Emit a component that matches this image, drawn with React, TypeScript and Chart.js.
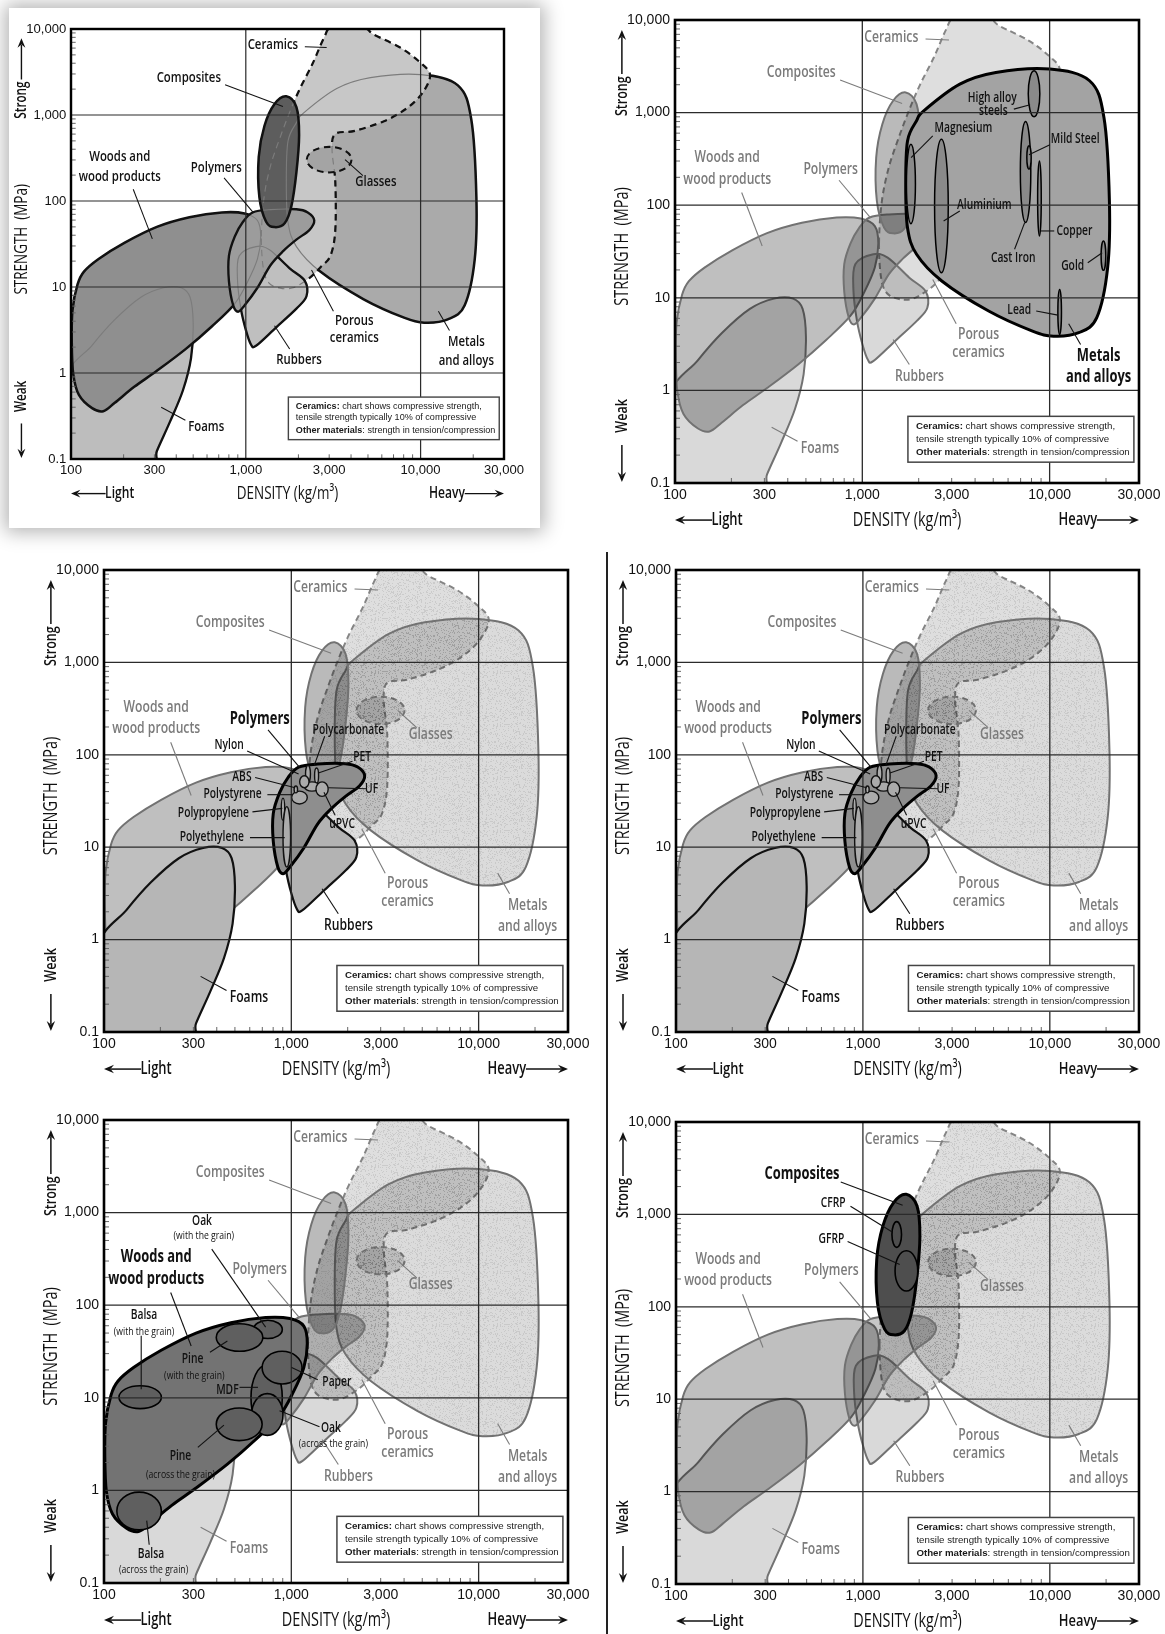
import React, { useEffect, useRef } from 'react';
import { Chart, registerables } from 'chart.js';

Chart.register(...registerables);

// ---------------- data ----------------
const densityTicks = [100, 300, 1000, 3000, 10000, 30000];
const strengthTicks = [0.1, 1, 10, 100, 1000, 10000];
const densityGridLines = [1000, 10000];
const strengthGridLines = [1, 10, 100, 1000];

// family outlines: [density kg/m3, strength MPa]
const ceramicsOutline = [
  [1228, 38.7], [1270, 108], [1384, 255], [1573, 552], [1788, 1095], [2032, 1995],
  [2412, 3963], [2800, 7870], [3115, 10400], [4676, 10400], [5428, 8570], [7640, 6085],
  [9872, 4135], [11320, 2936], [10300, 1832], [8322, 1193], [6170, 847], [4202, 655],
  [3251, 601], [3115, 392], [3251, 166], [3251, 45.9], [3050, 23.1], [2683, 17.1],
  [2310, 12.7], [1866, 9.8], [1573, 9.7], [1354, 11.2], [1260, 16.4],
];
const glassesBox = [2233, 4025, 215, 426];
const metalsOutline = [
  [2128, 1046], [3314, 2032], [5163, 2717], [10035, 2951], [16340, 2208], [19500, 886],
  [20850, 111], [20400, 21], [17850, 6.1], [14300, 4.2], [10490, 3.85], [8040, 4.4],
  [4725, 7.2], [2656, 15.2], [1948, 29.5], [1743, 57], [1705, 168], [1743, 495], [1948, 815],
];
const compositesOutline = [
  [1705, 1651], [1948, 1235], [2018, 585], [1948, 216], [1822, 86.7], [1668, 55],
  [1460, 49.7], [1307, 57.3], [1196, 111], [1186, 327], [1279, 750], [1460, 1342],
];
const woodsOutline = [
  [118.6, 15.1], [143.8, 21.2], [202, 32.6], [310, 50], [476, 64.7], [729, 73.6],
  [983, 71.7], [1166, 59.4], [1217, 38.7], [1166, 21.2], [1026, 11.6], [865, 6.4],
  [641, 3.5], [456, 1.92], [310, 1.06], [230, 0.69], [178, 0.45], [153, 0.36],
  [132, 0.39], [111, 0.556], [103, 0.97], [101, 2.29], [102, 5.4], [109, 10.7],
];
const polymersOutline = [
  [1094, 73.6], [1384, 79.5], [1947, 80.1], [2262, 73.6], [2464, 59.4], [2310, 45.9],
  [1947, 35.5], [1641, 26.3], [1384, 17.9], [1166, 9.8], [983, 6.1], [903, 5.16],
  [847, 6.1], [801, 11.6], [801, 23.1], [865, 38.7], [962, 56.9],
];
const rubbersOutline = [
  [917, 23], [1144, 29.5], [1366, 27.1], [1782, 16.5], [2176, 11.8], [2224, 7.8],
  [1948, 5.6], [1493, 3.4], [1144, 2.07], [1071, 2.14], [1002, 3.13], [937, 5.6], [897, 11.8],
];
const foamsOutline = [
  [92, 0.8], [132, 2.1], [178, 4.17], [251, 7.6], [338, 9.8], [427, 9.8], [480, 7.6],
  [500, 3.8], [486, 1.49], [437, 0.63], [368, 0.27], [310, 0.124], [279, 0.07], [85, 0.07],
];

// sub-class ellipses: [densityMin, densityMax, strengthMin, strengthMax]
const metalEllipses = [
  [7690, 8866, 901, 2831], [1720, 1921, 63.2, 456], [2431, 2876, 18.7, 516],
  [6977, 7934, 64.9, 802], [7556, 7970, 245, 438], [8630, 9022, 46.6, 301],
  [18830, 19940, 19.8, 41.1], [11066, 11565, 4.02, 12.3],
];
const polymerEllipses = [
  [1191, 1265, 50, 76.8], [1331, 1398, 49, 72], [1176, 1414, 40.4, 50.9],
  [1108, 1243, 44, 59.4], [1354, 1573, 35.5, 50.9], [1004, 1217, 29.4, 40.4],
  [1035, 1080, 38.7, 45.9], [884, 922, 19.5, 34], [903, 991, 6.1, 27.5],
];
const woodEllipses = [
  [120.2, 202.4, 7.64, 13.5], [117.1, 202.4, 0.3745, 0.958], [628, 895, 43.7, 68.7],
  [397.5, 704.5, 31.8, 63], [609, 895, 4.46, 22.6], [698.6, 1141, 14.1, 31.8],
  [614, 903, 3.93, 11.1], [397.5, 698.6, 3.45, 7.77],
];
const compositeEllipses = [
  [1430, 1609, 440, 835], [1486, 1965, 148.3, 403.6],
];

const outlines = {
  ceramics: ceramicsOutline, metals: metalsOutline, composites: compositesOutline,
  woods: woodsOutline, polymers: polymersOutline, rubbers: rubbersOutline, foams: foamsOutline,
};

// labels: lines [text, density, strength], leader [d1, s1, d2, s2]
const familyLabels = [
  { fam: 'ceramics', lines: [['Ceramics', 1428, 6494]], leader: [2176, 6231, 2902, 6077] },
  { fam: 'composites', lines: [['Composites', 472, 2717]], leader: [761, 2244, 1631, 1255] },
  { fam: 'woods', lines: [['Woods and', 190, 327], ['wood products', 190, 190.8]], leader: [227, 136.9, 292, 36.3] },
  { fam: 'polymers', lines: [['Polymers', 678, 244.7]], leader: [751, 186, 1104, 73.4] },
  { fam: 'glasses', lines: [['Glasses', 5546, 166]], leader: [4676, 197, 3696, 303] },
  { fam: 'ceramics', lines: [['Porous', 4173, 4.02], ['ceramics', 4173, 2.59]], leader: [3171, 5.24, 2377, 15.8] },
  { fam: 'rubbers', lines: [['Rubbers', 2018, 1.42]], leader: [1782, 1.905, 1460, 3.55] },
  { fam: 'metals', lines: [['Metals', 18260, 2.34], ['and alloys', 18260, 1.39]], leader: [14630, 3.13, 12640, 5.24] },
  { fam: 'foams', lines: [['Foams', 594, 0.239]], leader: [451, 0.282, 328, 0.4] },
];
const metalLabels = [
  { lines: [['High alloy', 4940, 1420], ['steels', 5005, 1045]], leader: [6442, 1090, 7865, 1214] },
  { lines: [['Magnesium', 3465, 673.5]], leader: [2377, 561, 1822, 327] },
  { lines: [['Aluminium', 4481, 100.7]], leader: [3314, 86.7, 2716, 67.6] },
  { lines: [['Mild Steel', 13690, 516]], leader: [10035, 448.6, 7760, 349.8] },
  { lines: [['Copper', 13565, 52.7]], leader: [10580, 52.7, 8942, 52.7] },
  { lines: [['Cast Iron', 6387, 27.1]], leader: [6500, 33.4, 7359, 64.9] },
  { lines: [['Gold', 13270, 21.7]], leader: [15980, 23.9, 19080, 30.7] },
  { lines: [['Lead', 6887, 7.3]], leader: [8480, 7.19, 11066, 6.5] },
];
const polymerLabels = [
  { lines: [['Polycarbonate', 2016, 184]], leader: [1507, 159, 1326, 76.8] },
  { lines: [['Nylon', 465.6, 128.5]], leader: [581, 110, 1094, 62] },
  { lines: [['PET', 2390, 95.1]], leader: [2121, 85.1, 1395, 63.6] },
  { lines: [['ABS', 545, 57.9]], leader: [641, 56.9, 1048, 44] },
  { lines: [['UF', 2683, 42.9]], leader: [2516, 42.9, 1573, 44] },
  { lines: [['Polystyrene', 486, 37.4]], leader: [745, 37, 1017, 37] },
  { lines: [['Polypropylene', 384, 23.5]], leader: [620, 24.1, 895, 26.3] },
  { lines: [['Polyethylene', 376, 12.7]], leader: [601.6, 12.7, 922, 12.7] },
  { lines: [['uPVC', 1866, 17.9]], leader: [1713, 22.2, 1494, 39.4] },
];
const woodLabels = [
  { lines: [['Oak', 333.6, 818], ['(with the grain)', 341, 557]], leader: [376, 402.7, 729, 57.9] },
  { lines: [['Balsa', 163.5, 78.1], ['(with the grain)', 163.5, 51.8]], leader: [158, 46.7, 158, 12.4] },
  { lines: [['Pine', 297.2, 26.1], ['(with the grain)', 303.7, 17.5]], leader: [368, 31, 455.7, 41.1] },
  { lines: [['MDF', 455.7, 12.1]], leader: [529, 12.97, 663.6, 12.97] },
  { lines: [['Paper', 1750, 14.75]], leader: [1384, 15.7, 1004, 21.3] },
  { lines: [['Oak', 1627, 4.73], ['(across the grain)', 1677, 3.17]], leader: [1414, 4.86, 865, 7.26] },
  { lines: [['Pine', 256, 2.35], ['(across the grain)', 256, 1.48]], leader: [316.9, 2.91, 436.7, 5.07] },
  { lines: [['Balsa', 178, 0.206], ['(across the grain)', 184, 0.14]], leader: [174.3, 0.259, 169.1, 0.4716] },
];
const compositeLabels = [
  { lines: [['CFRP', 693.5, 1338]], leader: [858, 1228, 1435, 646] },
  { lines: [['GFRP', 678, 544.5]], leader: [828, 508.5, 1574, 286.6] },
];

// ---------------- styles ----------------
const LABEL_FONT = '"Open Sans", "DejaVu Sans", sans-serif';
const TICK_FONT = '"Liberation Sans", Arial, sans-serif';
const COND = 0.76;

const overviewStyles = {
  ceramics: { fill: '#c7c7c7', stroke: '#111', width: 2.4, dash: [7, 5] },
  glasses: { fill: '#a4a4a4', stroke: '#111', width: 2.2, dash: [7, 5] },
  metals: { fill: '#aaaaaa', stroke: '#111', width: 2.7 },
  foams: { fill: '#bdbdbd', stroke: '#111', width: 2.5 },
  woods: { fill: '#8f8f8f', stroke: '#111', width: 2.7 },
  rubbers: { fill: '#bfbfbf', stroke: '#111', width: 2.5 },
  polymers: { fill: '#9c9c9c', stroke: '#111', width: 2.5 },
  composites: { fill: '#5d5d5d', stroke: '#111', width: 2.7 },
};
const muted = {
  ceramics: { fill: 'rgba(0,0,0,0.13)', stroke: '#858585', width: 2, dash: [6, 4] },
  glasses: { fill: 'rgba(0,0,0,0.14)', stroke: '#858585', width: 2, dash: [6, 4] },
  metals: { fill: 'rgba(0,0,0,0.14)', stroke: '#727272', width: 2 },
  foams: { fill: 'rgba(0,0,0,0.15)', stroke: '#727272', width: 2 },
  woods: { fill: 'rgba(0,0,0,0.25)', stroke: '#727272', width: 2 },
  rubbers: { fill: 'rgba(0,0,0,0.15)', stroke: '#727272', width: 2 },
  polymers: { fill: 'rgba(0,0,0,0.22)', stroke: '#727272', width: 2 },
  composites: { fill: 'rgba(0,0,0,0.27)', stroke: '#727272', width: 2 },
};
const stippled = ['ceramics', 'glasses', 'metals'];

const polymerPanel = (canvas, area) => ({
  canvas, area, ghost: false, stipple: true,
  order: ['ceramics', 'glasses', 'metals', 'woods', 'composites', 'foams', 'rubbers', 'polymers'],
  styles: {
    ...muted,
    polymers: { fill: '#8e8e8e', stroke: '#000', width: 3 },
    foams: { fill: '#b6b6b6', stroke: '#111', width: 2.2 },
    rubbers: { fill: '#b3b3b3', stroke: '#111', width: 2.2 },
  },
  black: ['polymers', 'foams', 'rubbers'], bold: 'polymers', hidden: [],
  ellipses: polymerEllipses, ellipseStyle: { fill: '#ababab', stroke: '#111', width: 1.4 },
  subLabels: polymerLabels,
});

const panels = [
  {
    canvas: [10, 9, 530, 519], area: [71, 29, 504, 459], ghost: true, stipple: false,
    order: ['foams', 'woods', 'metals', 'ceramics', 'glasses', 'rubbers', 'polymers', 'composites'],
    styles: overviewStyles, black: 'all', bold: null, hidden: [], ellipses: null, subLabels: [],
  },
  {
    canvas: [610, 0, 555, 540], area: [675, 20, 1139, 483], ghost: false, stipple: false,
    order: ['ceramics', 'glasses', 'foams', 'woods', 'rubbers', 'polymers', 'composites', 'metals'],
    styles: { ...muted, metals: { fill: '#a3a3a3', stroke: '#000', width: 3 } },
    black: ['metals'], bold: 'metals', hidden: ['glasses'],
    ellipses: metalEllipses, ellipseStyle: { fill: '#8a8a8a', stroke: '#000', width: 1.5 },
    subLabels: metalLabels,
  },
  polymerPanel([14, 548, 590, 540], [104, 570, 568, 1032]),
  polymerPanel([612, 548, 553, 540], [676, 570, 1139, 1032]),
  {
    canvas: [14, 1095, 590, 539], area: [104, 1120, 568, 1583], ghost: false, stipple: true,
    order: ['ceramics', 'glasses', 'metals', 'rubbers', 'polymers', 'composites', 'foams', 'woods'],
    styles: { ...muted, woods: { fill: '#737373', stroke: '#000', width: 3 } },
    black: ['woods'], bold: 'woods', hidden: [],
    ellipses: woodEllipses, ellipseStyle: { fill: '#5f5f5f', stroke: '#000', width: 1.6 },
    subLabels: woodLabels,
  },
  {
    canvas: [612, 1095, 553, 539], area: [676, 1122, 1139, 1584], ghost: false, stipple: true,
    order: ['ceramics', 'glasses', 'metals', 'foams', 'woods', 'rubbers', 'polymers', 'composites'],
    styles: { ...muted, composites: { fill: '#4e4e4e', stroke: '#000', width: 3 } },
    black: ['composites'], bold: 'composites', hidden: [],
    ellipses: compositeEllipses, ellipseStyle: { fill: '#4e4e4e', stroke: '#000', width: 1.6 },
    subLabels: compositeLabels,
  },
];

// ---------------- drawing helpers ----------------
let speckleCanvas = null;
function getSpeckle() {
  if (speckleCanvas) return speckleCanvas;
  const c = document.createElement('canvas');
  c.width = 61;
  c.height = 53;
  const g = c.getContext('2d');
  const img = g.createImageData(61, 53);
  for (let y = 0; y < 53; y++) {
    for (let x = 0; x < 61; x++) {
      const h = Math.sin(x * 12.9898 + y * 78.233) * 43758.5453;
      const f = h - Math.floor(h);
      const i = (y * 61 + x) * 4;
      img.data[i] = 0; img.data[i + 1] = 0; img.data[i + 2] = 0;
      img.data[i + 3] = f > 0.8 ? 22 : 0;
    }
  }
  g.putImageData(img, 0, 0);
  speckleCanvas = c;
  return c;
}

function closedSpline(pts) {
  const p = new Path2D();
  const n = pts.length;
  p.moveTo(pts[0][0], pts[0][1]);
  for (let i = 0; i < n; i++) {
    const p0 = pts[(i - 1 + n) % n], p1 = pts[i], p2 = pts[(i + 1) % n], p3 = pts[(i + 2) % n];
    const c1x = p1[0] + (p2[0] - p0[0]) / 6, c1y = p1[1] + (p2[1] - p0[1]) / 6;
    const c2x = p2[0] - (p3[0] - p1[0]) / 6, c2y = p2[1] - (p3[1] - p1[1]) / 6;
    p.bezierCurveTo(c1x, c1y, c2x, c2y, p2[0], p2[1]);
  }
  p.closePath();
  return p;
}

function ellipsePath(x1, x2, y1, y2) {
  const p = new Path2D();
  p.ellipse((x1 + x2) / 2, (y1 + y2) / 2, Math.abs(x2 - x1) / 2, Math.abs(y2 - y1) / 2, 0, 0, Math.PI * 2);
  return p;
}

function drawText(ctx, text, x, y, font, color, cond, rotate = false, align = 'center') {
  ctx.save();
  ctx.font = font;
  ctx.fillStyle = color;
  ctx.textAlign = align;
  ctx.textBaseline = 'middle';
  ctx.translate(x, y);
  if (rotate) ctx.rotate(-Math.PI / 2);
  ctx.scale(cond, 1);
  ctx.fillText(text, 0, 0);
  ctx.restore();
}

function arrow(ctx, x1, y1, x2, y2, s) {
  const ang = Math.atan2(y2 - y1, x2 - x1);
  const c = Math.cos(ang), sn = Math.sin(ang);
  const hl = 10 * s, hw = 4.2 * s;
  ctx.save();
  ctx.strokeStyle = '#111';
  ctx.fillStyle = '#111';
  ctx.lineWidth = 1.5 * s;
  ctx.setLineDash([]);
  ctx.beginPath();
  ctx.moveTo(x1, y1);
  ctx.lineTo(x2 - c * hl * 0.7, y2 - sn * hl * 0.7);
  ctx.stroke();
  ctx.beginPath();
  ctx.moveTo(x2, y2);
  ctx.lineTo(x2 - c * hl + sn * hw, y2 - sn * hl - c * hw);
  ctx.lineTo(x2 - c * hl * 0.65, y2 - sn * hl * 0.65);
  ctx.lineTo(x2 - c * hl - sn * hw, y2 - sn * hl + c * hw);
  ctx.closePath();
  ctx.fill();
  ctx.restore();
}

function drawLabel(ctx, X, Y, lbl, color, weight, size, s) {
  if (lbl.leader) {
    const [d1, s1, d2, s2] = lbl.leader;
    ctx.save();
    ctx.strokeStyle = color;
    ctx.lineWidth = 1.1 * s;
    ctx.setLineDash([]);
    ctx.beginPath();
    ctx.moveTo(X(d1), Y(s1));
    ctx.lineTo(X(d2), Y(s2));
    ctx.stroke();
    ctx.restore();
  }
  lbl.lines.forEach(([t, d, st]) => {
    const small = t.startsWith('(');
    const sz = (small ? size * 0.84 : size) * s;
    const w = small ? 500 : weight;
    drawText(ctx, t, X(d), Y(st), `${w} ${sz}px ${LABEL_FONT}`, color, COND);
  });
}

function drawPanel(chart, spec) {
  const ctx = chart.ctx;
  const a = chart.chartArea;
  const xs = chart.scales.x, ys = chart.scales.y;
  const X = (v) => xs.getPixelForValue(v);
  const Y = (v) => ys.getPixelForValue(v);
  const L = a.left, R = a.right, T = a.top, B = a.bottom, W = R - L, H = B - T;
  const s = W / 463;

  ctx.save();
  ctx.beginPath();
  ctx.rect(L, T, W, H);
  ctx.clip();
  ctx.lineJoin = 'round';

  const speckle = spec.stipple ? ctx.createPattern(getSpeckle(), 'repeat') : null;
  const items = spec.order.map((key) => {
    const path = key === 'glasses'
      ? ellipsePath(X(glassesBox[0]), X(glassesBox[1]), Y(glassesBox[2]), Y(glassesBox[3]))
      : closedSpline(outlines[key].map(([d, st]) => [X(d), Y(st)]));
    return { key, path, st: spec.styles[key] };
  });
  const strokeIt = (path, st) => {
    ctx.strokeStyle = st.stroke;
    ctx.lineWidth = st.width * s;
    ctx.setLineDash(st.dash ? st.dash.map((d) => d * s) : []);
    ctx.stroke(path);
  };
  if (spec.ghost) {
    items.forEach((it) => { ctx.fillStyle = it.st.fill; ctx.fill(it.path); });
    items.forEach((it) => {
      ctx.save();
      ctx.strokeStyle = '#7c7c7c';
      ctx.lineWidth = 1.2 * s;
      ctx.setLineDash(it.st.dash ? it.st.dash.map((d) => d * s) : []);
      ctx.stroke(it.path);
      ctx.restore();
    });
    items.forEach((it, i) => {
      ctx.save();
      for (let j = i + 1; j < items.length; j++) {
        const cp = new Path2D();
        cp.rect(0, 0, chart.width, chart.height);
        cp.addPath(items[j].path);
        ctx.clip(cp, 'evenodd');
      }
      strokeIt(it.path, it.st);
      ctx.restore();
    });
  } else {
    items.forEach((it) => {
      ctx.fillStyle = it.st.fill;
      ctx.fill(it.path);
      if (speckle && stippled.includes(it.key)) {
        ctx.fillStyle = speckle;
        ctx.fill(it.path);
      }
      ctx.save();
      strokeIt(it.path, it.st);
      ctx.restore();
    });
  }
  if (spec.ellipses) {
    const es = spec.ellipseStyle;
    spec.ellipses.forEach((b) => {
      const p = ellipsePath(X(b[0]), X(b[1]), Y(b[2]), Y(b[3]));
      ctx.fillStyle = es.fill;
      ctx.fill(p);
      ctx.setLineDash([]);
      ctx.strokeStyle = es.stroke;
      ctx.lineWidth = es.width * s;
      ctx.stroke(p);
    });
  }
  ctx.restore();

  // grid, minor ticks, frame
  ctx.save();
  ctx.setLineDash([]);
  ctx.strokeStyle = '#2b2b2b';
  ctx.lineWidth = 1.3 * s;
  densityGridLines.forEach((v) => {
    const x = X(v);
    ctx.beginPath(); ctx.moveTo(x, T); ctx.lineTo(x, B); ctx.stroke();
  });
  strengthGridLines.forEach((v) => {
    const y = Y(v);
    ctx.beginPath(); ctx.moveTo(L, y); ctx.lineTo(R, y); ctx.stroke();
  });
  ctx.strokeStyle = '#666';
  ctx.lineWidth = 1;
  for (let k = 2; k <= 4; k++) {
    for (let m = 2; m <= 9; m++) {
      const v = m * Math.pow(10, k);
      if (v >= 30000) continue;
      const x = X(v);
      ctx.beginPath(); ctx.moveTo(x, B); ctx.lineTo(x, B - 5 * s); ctx.stroke();
    }
  }
  for (let k = -1; k <= 3; k++) {
    for (let m = 2; m <= 9; m++) {
      const y = Y(m * Math.pow(10, k));
      ctx.beginPath(); ctx.moveTo(L, y); ctx.lineTo(L + 5 * s, y); ctx.stroke();
    }
  }
  ctx.strokeStyle = '#000';
  ctx.lineWidth = 2.6 * s;
  ctx.strokeRect(L, T, W, H);
  ctx.restore();

  // family labels
  familyLabels.forEach((lbl) => {
    if (spec.hidden.includes(lbl.fam)) return;
    const isBlack = spec.black === 'all' || spec.black.includes(lbl.fam);
    const isBold = spec.bold === lbl.fam;
    drawLabel(ctx, X, Y, lbl, isBlack ? '#111' : '#7b7b7b', isBold ? 700 : 600, isBold ? 17 : 16, s);
  });
  spec.subLabels.forEach((lbl) => drawLabel(ctx, X, Y, lbl, '#111', 600, 13.5, s));

  // note box
  const bx = L + 0.502 * W, by = T + 0.856 * H, bw = 0.487 * W, bh = 0.099 * H;
  ctx.save();
  ctx.fillStyle = '#fff';
  ctx.fillRect(bx, by, bw, bh);
  ctx.strokeStyle = '#444';
  ctx.lineWidth = 1.5 * s;
  ctx.strokeRect(bx, by, bw, bh);
  const noteLines = [
    ['Ceramics:', ' chart shows compressive strength,', 0.22],
    ['', 'tensile strength typically 10% of compressive', 0.49],
    ['Other materials', ': strength in tension/compression', 0.78],
  ];
  ctx.textBaseline = 'middle';
  ctx.textAlign = 'left';
  ctx.fillStyle = '#1a1a1a';
  noteLines.forEach(([bold, rest, f]) => {
    ctx.save();
    ctx.translate(bx + 8 * s, by + f * bh);
    ctx.scale(0.99, 1);
    let x = 0;
    if (bold) {
      ctx.font = `bold ${9.8 * s}px ${TICK_FONT}`;
      ctx.fillText(bold, x, 0);
      x += ctx.measureText(bold).width;
    }
    ctx.font = `${9.8 * s}px ${TICK_FONT}`;
    ctx.fillText(rest, x, 0);
    ctx.restore();
  });
  ctx.restore();

  // axis titles and arrows
  const ax = L - 53 * s;
  drawText(ctx, 'STRENGTH  (MPa)', ax, (T + B) / 2 - 5 * s, `400 ${20 * s}px ${LABEL_FONT}`, '#111', 0.72, true);
  drawText(ctx, 'Strong', ax, T + 76 * s, `600 ${16.5 * s}px ${LABEL_FONT}`, '#111', COND, true);
  arrow(ctx, ax, T + 54 * s, ax, T + 10 * s, s);
  drawText(ctx, 'Weak', ax, B - 67 * s, `600 ${16.5 * s}px ${LABEL_FONT}`, '#111', COND, true);
  arrow(ctx, ax, B - 38 * s, ax, B - 1, s);
  const by2 = B + 37 * s;
  drawText(ctx, 'DENSITY (kg/m³)', (L + R) / 2, by2, `400 ${20 * s}px ${LABEL_FONT}`, '#111', 0.72);
  drawText(ctx, 'Light', L + 52 * s, by2, `600 ${17 * s}px ${LABEL_FONT}`, '#111', COND);
  arrow(ctx, L + 37 * s, by2, L, by2, s);
  drawText(ctx, 'Heavy', R - 61 * s, by2, `600 ${17 * s}px ${LABEL_FONT}`, '#111', COND);
  arrow(ctx, R - 42 * s, by2, R, by2, s);
}

// ---------------- components ----------------
function Panel({ spec }) {
  const ref = useRef(null);
  useEffect(() => {
    const [cx, cy, cw, ch] = spec.canvas;
    const [L, T, R, B] = spec.area;
    const s = (R - L) / 463;
    const datasets = spec.order.map((key) => ({
      label: key,
      data: (key === 'glasses'
        ? [[glassesBox[0], glassesBox[2]], [glassesBox[1], glassesBox[3]]]
        : outlines[key]).map(([x, y]) => ({ x, y })),
      pointRadius: 0,
      showLine: false,
    }));
    if (spec.ellipses) {
      spec.ellipses.forEach((b, i) => datasets.push({
        label: 'sub' + i,
        data: [{ x: b[0], y: b[2] }, { x: b[1], y: b[3] }],
        pointRadius: 0,
        showLine: false,
      }));
    }
    const tickFont = { family: TICK_FONT, size: 14 * s };
    const chart = new Chart(ref.current, {
      type: 'scatter',
      data: { datasets },
      options: {
        animation: false,
        responsive: false,
        maintainAspectRatio: false,
        devicePixelRatio: 1,
        events: [],
        layout: { padding: { left: 0, top: T - cy, right: cx + cw - R, bottom: 0 } },
        plugins: { legend: { display: false }, tooltip: { enabled: false } },
        scales: {
          x: {
            type: 'logarithmic',
            min: 100,
            max: 30000,
            bounds: 'data',
            grid: { display: false, drawTicks: false },
            border: { display: false },
            afterBuildTicks: (axis) => { axis.ticks = densityTicks.map((v) => ({ value: v })); },
            afterFit: (axis) => { axis.height = cy + ch - B; },
            ticks: {
              autoSkip: false, maxRotation: 0, minRotation: 0, padding: 4 * s,
              color: '#111', font: tickFont,
              callback: (v) => Number(v).toLocaleString('en-US'),
            },
          },
          y: {
            type: 'logarithmic',
            min: 0.1,
            max: 10000,
            bounds: 'data',
            grid: { display: false, drawTicks: false },
            border: { display: false },
            afterBuildTicks: (axis) => { axis.ticks = strengthTicks.map((v) => ({ value: v })); },
            afterFit: (axis) => { axis.width = L - cx; },
            ticks: {
              autoSkip: false, padding: 5 * s,
              color: '#111', font: tickFont,
              callback: (v) => Number(v).toLocaleString('en-US'),
            },
          },
        },
      },
      plugins: [{ id: 'materialsDraw', afterDatasetsDraw: (c) => drawPanel(c, spec) }],
    });
    return () => chart.destroy();
  }, [spec]);
  const [cx, cy, cw, ch] = spec.canvas;
  return (
    <canvas
      ref={ref}
      width={cw}
      height={ch}
      style={{ position: 'absolute', left: cx, top: cy, width: cw, height: ch }}
    />
  );
}

export default function App() {
  return (
    <div style={{ position: 'absolute', left: 0, top: 0, width: 1165, height: 1634, background: '#fff', overflow: 'hidden' }}>
      <div style={{ position: 'absolute', left: 9, top: 8, width: 531, height: 520, background: '#fff', boxShadow: '0 0 18px 4px rgba(0,0,0,0.3)' }} />
      <div style={{ position: 'absolute', left: 606, top: 552, width: 1.5, height: 1082, background: '#222' }} />
      {panels.map((p, i) => <Panel key={i} spec={p} />)}
    </div>
  );
}
